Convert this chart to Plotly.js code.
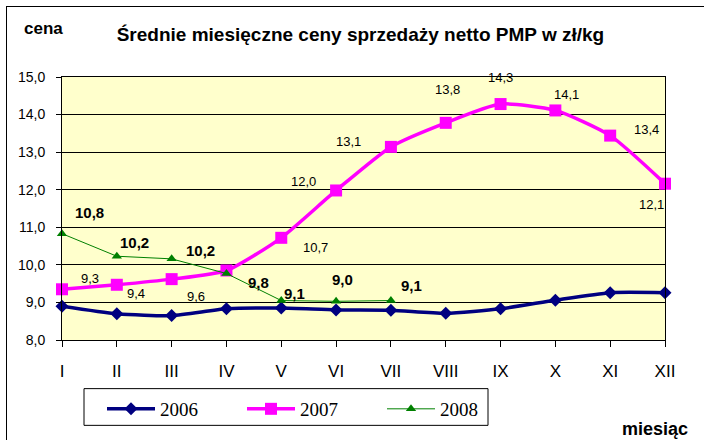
<!DOCTYPE html>
<html>
<head>
<meta charset="utf-8">
<script src="https://cdn.plot.ly/plotly-3.0.1.min.js"></script>
<style>
html, body { margin: 0; padding: 0; background: #ffffff; overflow: hidden; }
#chart { width: 704px; height: 440px; position: absolute; left: 0; top: 0; }
#frame { position: absolute; left: 6px; top: 6px; width: 800px; height: 800px; border: 1px solid #000; pointer-events: none; }
</style>
</head>
<body>
<div id="chart"></div>
<div id="frame"></div>
<script>
const months = ['I', 'II', 'III', 'IV', 'V', 'VI', 'VII', 'VIII', 'IX', 'X', 'XI', 'XII'];
const years = ['2006', '2007', '2008'];

const values2006 = [8.9, 8.7, 8.65, 8.83, 8.85, 8.8, 8.79, 8.71, 8.83, 9.06, 9.26, 9.26];
const values2007 = [9.35, 9.47, 9.62, 9.85, 10.72, 11.98, 13.14, 13.78, 14.28, 14.11, 13.44, 12.16];
const values2008 = [10.83, 10.23, 10.16, 9.77, 9.05, 9.03, 9.05];

const labels2007 = ['9,3', '9,4', '9,6', '', '10,7', '12,0', '13,1', '13,8', '14,3', '14,1', '13,4', '12,1'];
const labels2008 = ['10,8', '10,2', '10,2', '9,8', '9,1', '9,0', '9,1'];

// label placement offsets (pixels) relative to each point
const offsets2007 = [[28, 11], [19, -9], [24, -17], [0, 0], [34, -10], [-33, 9], [-42, 5], [2, 33], [0, 27], [11, 16], [36, 6], [-14, -21]];
const offsets2008 = [[27, 21], [18, 14], [29, 8], [32, -9], [13, 7], [6, 22], [21, 15]];

const FONT = 'Liberation Sans, Arial, sans-serif';

const traces = [
  {
    x: months, y: values2006, name: years[0], type: 'scatter', mode: 'lines+markers',
    line: { color: '#000080', width: 3.5, shape: 'spline', smoothing: 0.6 },
    marker: { symbol: 'diamond', size: 10, color: '#000080' },
    cliponaxis: false
  },
  {
    x: months, y: values2007, name: years[1], type: 'scatter', mode: 'lines+markers',
    line: { color: '#FF00FF', width: 3.5, shape: 'spline', smoothing: 0.6 },
    marker: { symbol: 'square', size: 12, color: '#FF00FF' },
    cliponaxis: false
  },
  {
    x: months.slice(0, values2008.length), y: values2008, name: years[2], type: 'scatter', mode: 'lines+markers',
    line: { color: '#008000', width: 1 },
    marker: { symbol: 'triangle-up', size: 9, color: '#008000' },
    cliponaxis: false
  }
];

const annotations = [];
labels2007.forEach((t, i) => {
  if (!t) return;
  annotations.push({
    x: months[i], y: values2007[i], xref: 'x', yref: 'y', text: t, showarrow: false,
    xanchor: 'center', yanchor: 'middle', xshift: offsets2007[i][0], yshift: offsets2007[i][1],
    font: { family: FONT, size: 13, color: '#000' }
  });
});
labels2008.forEach((t, i) => {
  annotations.push({
    x: months[i], y: values2008[i], xref: 'x', yref: 'y', text: '<b>' + t + '</b>', showarrow: false,
    xanchor: 'center', yanchor: 'middle', xshift: offsets2008[i][0], yshift: offsets2008[i][1],
    font: { family: FONT, size: 15, color: '#000' }
  });
});
annotations.push({
  xref: 'paper', yref: 'paper', x: -0.03, y: 1.185, xanchor: 'center', yanchor: 'middle',
  text: '<b>cena</b>', showarrow: false,
  font: { family: FONT, size: 17, color: '#000' }
});
annotations.push({
  xref: 'paper', yref: 'paper', x: 1.0415, y: -0.34, xanchor: 'right', yanchor: 'middle',
  text: '<b>miesiąc</b>', showarrow: false,
  font: { family: FONT, size: 18, color: '#000' }
});

const layout = {
  width: 704, height: 440,
  margin: { l: 62, r: 39, t: 77, b: 98 },
  paper_bgcolor: 'rgba(0,0,0,0)',
  plot_bgcolor: '#FFFFCC',
  separators: ',.',
  showlegend: true,
  title: {
    text: '<b>Średnie miesięczne ceny sprzedaży netto PMP w zł/kg</b>',
    x: 0.512, xref: 'container', xanchor: 'center',
    y: 0.922, yref: 'container', yanchor: 'middle',
    font: { family: FONT, size: 19, color: '#000' }
  },
  xaxis: {
    type: 'category', range: [0, 11],
    showgrid: false, zeroline: false,
    showline: true, linecolor: '#000', linewidth: 1, mirror: true,
    ticks: 'outside', ticklen: 6, tickcolor: '#000',
    ticklabelstandoff: 10,
    tickfont: { family: FONT, size: 17, color: '#000' }
  },
  yaxis: {
    range: [8, 15], dtick: 1, tick0: 8, tickformat: '.1f',
    showgrid: true, gridcolor: '#000', gridwidth: 1, zeroline: false,
    showline: true, linecolor: '#000', linewidth: 1, mirror: true,
    ticks: 'outside', ticklen: 5, tickcolor: '#000',
    ticklabelstandoff: 8,
    tickfont: { family: FONT, size: 14, color: '#000' }
  },
  shapes: [{
    type: 'rect', xref: 'paper', yref: 'paper',
    x0: (84 - 62) / 603, x1: (488 - 62) / 603,
    y0: -(428 - 342) / 265, y1: -(391 - 342) / 265,
    fillcolor: '#ffffff', line: { color: '#000', width: 1 }, layer: 'above'
  }],
  legend: {
    orientation: 'h', x: (102 - 62) / 603, y: -0.19, xanchor: 'left', yanchor: 'top',
    bgcolor: 'rgba(0,0,0,0)', borderwidth: 0,
    itemwidth: 48, entrywidth: 77, entrywidthmode: 'pixels',
    font: { family: 'Liberation Serif, Times New Roman, serif', size: 19, color: '#000' }
  },
  annotations: annotations
};

Plotly.newPlot('chart', traces, layout, { displayModeBar: false, staticPlot: true });
</script>
</body>
</html>
